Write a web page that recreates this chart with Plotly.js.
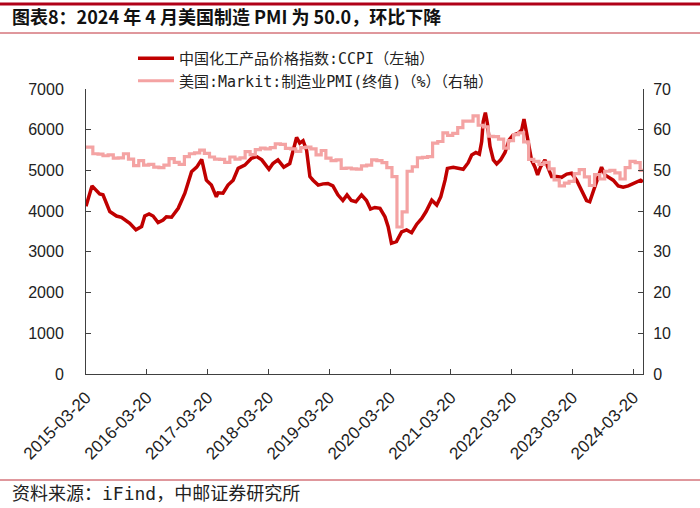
<!DOCTYPE html>
<html>
<head>
<meta charset="utf-8">
<script src="https://cdn.plot.ly/plotly-3.0.1.min.js"></script>
<style>body{margin:0;padding:0;background:#fff;} #chart{width:700px;height:508px;}</style>
</head>
<body>
<div id="chart"></div>
<script>
// ---- Data ----
const ccpiDates = [
 "2015-03-20","2015-04-25","2015-06-10","2015-06-30","2015-08-10","2015-09-19","2015-10-19","2015-12-08",
 "2016-01-14","2016-02-17","2016-03-07","2016-04-02","2016-04-26","2016-05-26","2016-06-25","2016-07-15",
 "2016-08-15","2016-09-24","2016-11-03","2016-12-13","2017-01-13","2017-02-12","2017-03-12","2017-04-11",
 "2017-05-11","2017-05-21","2017-06-20","2017-07-20","2017-08-20","2017-09-19","2017-10-29","2017-12-08",
 "2018-01-08","2018-02-08","2018-03-23","2018-04-16","2018-05-16","2018-06-20","2018-07-26","2018-08-15",
 "2018-09-05","2018-09-24","2018-10-14","2018-11-04","2018-11-24","2018-12-13","2019-01-13","2019-02-12",
 "2019-03-12","2019-04-11","2019-05-11","2019-06-10","2019-07-05","2019-07-31","2019-08-27","2019-09-30",
 "2019-10-30","2019-11-23","2019-12-19","2020-01-19","2020-02-18","2020-03-08","2020-03-28","2020-04-27",
 "2020-05-28","2020-06-27","2020-07-27","2020-08-27","2020-09-26","2020-10-22","2020-11-25","2020-12-25",
 "2021-01-18","2021-02-13","2021-02-27","2021-04-03","2021-05-03","2021-06-02","2021-07-02","2021-07-23",
 "2021-08-17","2021-09-07","2021-09-21","2021-09-30","2021-10-13","2021-10-25","2021-11-10","2021-11-30",
 "2021-12-20","2022-01-13","2022-02-08","2022-03-05","2022-03-29","2022-04-28","2022-05-19","2022-06-02",
 "2022-06-18","2022-07-03","2022-07-17","2022-08-07","2022-08-23","2022-09-10","2022-10-06","2022-10-26",
 "2022-11-15","2022-12-15","2023-01-14","2023-02-14","2023-03-15","2023-04-14","2023-05-14","2023-06-13",
 "2023-07-02","2023-07-27","2023-08-22","2023-09-11","2023-10-01","2023-10-27","2023-11-20","2023-12-20",
 "2024-01-19","2024-02-18","2024-03-20","2024-05-03","2024-05-17"
];
const ccpiValues = [
 4120,4620,4420,4400,3990,3880,3850,3700,
 3540,3620,3880,3930,3880,3720,3780,3860,
 3850,4070,4440,4970,5080,5270,4760,4640,
 4350,4450,4440,4640,4760,5050,5130,5300,
 5340,5260,5030,5170,5260,5080,5170,5460,
 5810,5670,5730,5500,4850,4760,4640,4670,
 4680,4620,4400,4260,4400,4260,4230,4400,
 4260,4050,4090,4070,3860,3620,3210,3250,
 3490,3540,3470,3680,3820,3990,4270,4150,
 4350,4760,5050,5080,5050,5030,5190,5380,
 5440,5400,5710,6200,6420,6160,5590,5260,
 5160,5260,5440,5750,5870,5910,5990,6260,
 5910,5590,5260,5080,4890,5090,5260,5050,
 4850,4850,4830,4910,4930,4760,4520,4260,
 4230,4520,4850,5080,4890,4810,4760,4620,
 4590,4620,4680,4760,4720
];
const pmiDates = [
 "2015-03-20","2015-04-30","2015-05-31","2015-06-30","2015-07-31","2015-08-31","2015-09-30","2015-10-31","2015-11-30","2015-12-31",
 "2016-01-31","2016-02-29","2016-03-31","2016-04-30","2016-05-31","2016-06-30","2016-07-31","2016-08-31","2016-09-30","2016-10-31","2016-11-30","2016-12-31",
 "2017-01-31","2017-02-28","2017-03-31","2017-04-30","2017-05-31","2017-06-30","2017-07-31","2017-08-31","2017-09-30","2017-10-31","2017-11-30","2017-12-31",
 "2018-01-31","2018-02-28","2018-03-31","2018-04-30","2018-05-31","2018-06-30","2018-07-31","2018-08-31","2018-09-30","2018-10-31","2018-11-30","2018-12-31",
 "2019-01-31","2019-02-28","2019-03-31","2019-04-30","2019-05-31","2019-06-30","2019-07-31","2019-08-31","2019-09-30","2019-10-31","2019-11-30","2019-12-31",
 "2020-01-31","2020-02-29","2020-03-31","2020-04-30","2020-05-31","2020-06-30","2020-07-31","2020-08-31","2020-09-30","2020-10-31","2020-11-30","2020-12-31",
 "2021-01-31","2021-02-28","2021-03-31","2021-04-30","2021-05-31","2021-06-30","2021-07-31","2021-08-31","2021-09-30","2021-10-31","2021-11-30","2021-12-31",
 "2022-01-31","2022-02-28","2022-03-31","2022-04-30","2022-05-31","2022-06-30","2022-07-31","2022-08-31","2022-09-30","2022-10-31","2022-11-30","2022-12-31",
 "2023-01-31","2023-02-28","2023-03-31","2023-04-30","2023-05-31","2023-06-30","2023-07-31","2023-08-31","2023-09-30","2023-10-31","2023-11-30","2023-12-31",
 "2024-01-31","2024-02-29","2024-03-31","2024-04-30","2024-05-17"
];
const pmiValues = [
 55.7,54.1,54.0,53.6,53.8,53.0,53.1,54.1,52.8,51.2,
 52.4,51.3,51.5,50.8,50.7,51.3,52.9,52.0,51.5,53.4,54.1,54.3,
 55.0,54.2,53.3,52.8,52.7,52.0,53.3,52.8,53.1,54.6,53.9,55.1,
 55.5,55.3,55.6,56.5,56.4,55.4,55.3,54.7,55.6,55.7,55.3,53.8,
 54.9,53.0,52.4,52.6,50.5,50.6,50.4,50.3,51.1,51.3,52.6,52.4,
 51.9,50.7,48.5,36.1,39.8,49.8,50.9,53.1,53.2,53.4,56.7,57.1,
 59.2,58.6,59.1,60.5,62.1,62.1,63.4,61.1,60.7,58.4,58.3,57.7,
 55.5,57.3,58.8,59.2,57.0,52.7,52.2,51.5,52.0,50.4,47.7,46.2,
 46.9,47.3,49.2,50.2,48.4,46.3,49.0,47.9,49.8,50.0,49.4,47.9,
 50.7,52.2,51.9,50.0,50.0
];
const tickDates = ["2015-03-20","2016-03-20","2017-03-20","2018-03-20","2019-03-20","2020-03-20","2021-03-20","2022-03-20","2023-03-20","2024-03-20"];
const tickLabels = ["2015-03-20","2016-03-20","2017-03-20","2018-03-20","2019-03-20","2020-03-20","2021-03-20","2022-03-20","2023-03-20","2024-03-20"];
const seriesNames = ["中国化工产品价格指数:CCPI（左轴）","美国:Markit:制造业PMI(终值)（%）（右轴）"];
const titleText = "图表8：2024 年 4 月美国制造 PMI 为 50.0，环比下降";
const sourceText = "资料来源：iFind，中邮证券研究所";

// ---- Chart ----
const numFont = "Liberation Sans, Arial, sans-serif";
const cjkMono = "DejaVu Sans Mono, Noto Sans CJK SC, sans-serif";

const traces = [
  {x: ccpiDates, y: ccpiValues, name: seriesNames[0], type: 'scatter', mode: 'lines',
   line: {color: '#C00000', width: 3.5}, yaxis: 'y'},
  {x: pmiDates, y: pmiValues, name: seriesNames[1], type: 'scatter', mode: 'lines',
   line: {color: '#F4A3A3', width: 3.2, shape: 'hv'}, yaxis: 'y2'}
];

const W = 557, H = 285, L = 86, T = 89;
const px = v => (v - L) / W;
const py = v => (T + H - v) / H;

const axisCommon = {
  showline: true, linecolor: '#404040', linewidth: 1,
  showgrid: false, zeroline: false,
  ticks: 'inside', ticklen: 5, tickcolor: '#404040',
  tickfont: {family: numFont, size: 16, color: '#222'}
};

const layout = {
  width: 700, height: 508,
  margin: {l: 86, r: 57, t: 89, b: 134},
  paper_bgcolor: '#fff', plot_bgcolor: '#fff',
  title: {
    text: '<b>' + titleText + '</b>',
    x: 12/700, xanchor: 'left', xref: 'container',
    y: 1 - 18/508, yanchor: 'middle', yref: 'container',
    font: {family: "Noto Sans CJK SC, DejaVu Sans, sans-serif", size: 18, color: '#111'}
  },
  showlegend: true,
  legend: {
    x: px(133), xanchor: 'left', y: py(42), yanchor: 'top',
    font: {family: cjkMono, size: 15, color: '#222'},
    bgcolor: 'rgba(0,0,0,0)', itemwidth: 36, tracegroupgap: 0
  },
  xaxis: Object.assign({}, axisCommon, {
    type: 'date', range: ['2015-03-20', '2024-05-17'],
    tickmode: 'array', tickvals: tickDates, ticktext: tickLabels, tickangle: -45,
    tickfont: {family: numFont, size: 17, color: '#222'}, ticklabelstandoff: 6
  }),
  yaxis: Object.assign({}, axisCommon, {
    range: [0, 7000], dtick: 1000, tick0: 0, tickformat: 'd', ticklabelstandoff: 18
  }),
  yaxis2: Object.assign({}, axisCommon, {
    range: [0, 70], dtick: 10, tick0: 0, overlaying: 'y', side: 'right', ticklabelstandoff: 6
  }),
  shapes: [
    {type: 'line', xref: 'paper', yref: 'paper', x0: px(0), x1: px(700), y0: py(4), y1: py(4), line: {color: '#B00018', width: 3}},
    {type: 'line', xref: 'paper', yref: 'paper', x0: px(0), x1: px(700), y0: py(33), y1: py(33), line: {color: '#C0303A', width: 1}},
    {type: 'line', xref: 'paper', yref: 'paper', x0: px(0), x1: px(700), y0: py(480), y1: py(480), line: {color: '#C0303A', width: 1}}
  ],
  annotations: [
    {text: sourceText, xref: 'paper', yref: 'paper', x: px(10), y: py(493), xanchor: 'left', yanchor: 'middle',
     showarrow: false, font: {family: cjkMono, size: 18, color: '#222'}}
  ]
};

Plotly.newPlot('chart', traces, layout, {displayModeBar: false, staticPlot: true});
</script>
</body>
</html>
